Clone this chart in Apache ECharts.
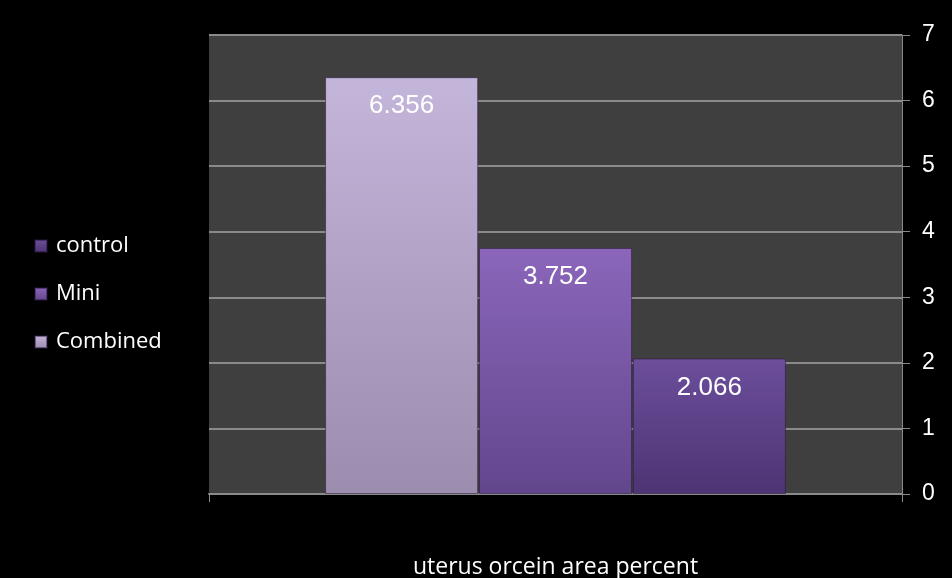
<!DOCTYPE html>
<html>
<head>
<meta charset="utf-8">
<script src="https://cdn.jsdelivr.net/npm/echarts@6/dist/echarts.min.js"></script>
<style>html,body{margin:0;padding:0;background:#000;}#c{width:952px;height:578px;}</style>
</head>
<body>
<div id="c"></div>
<script>
const categories = ['uterus orcein area percent'];
const seriesNames = ['Combined', 'Mini', 'control'];
const combinedValues = [6.356];
const miniValues = [3.752];
const controlValues = [2.066];
const legendOrder = ['control', 'Mini', 'Combined'];
const yTicks = [0, 1, 2, 3, 4, 5, 6, 7];

const grads = {
  Combined: ['#c4b5da', '#9c8cae'],
  Mini: ['#8b66bb', '#62468c'],
  control: ['#6c4e9b', '#4d3473']
};
const dataMap = { Combined: combinedValues, Mini: miniValues, control: controlValues };
const sansFont = '"Open Sans", Lato, sans-serif';

const chart = echarts.init(document.getElementById('c'));
chart.setOption({
  backgroundColor: '#000',
  animation: false,
  grid: { left: 209, right: 50, top: 35, bottom: 84, show: true, backgroundColor: '#3f3f3f', borderWidth: 0, outerBoundsMode: 'none', containLabel: false },
  legend: {
    orient: 'vertical', left: 29, top: 228,
    data: legendOrder, icon: 'rect', itemWidth: 12, itemHeight: 12, itemGap: 22,
    textStyle: { color: '#fff', fontSize: 22, fontFamily: sansFont, lineHeight: 26, padding: [0, 0, 0, 4] }
  },
  xAxis: {
    type: 'category', data: categories,
    axisLine: { show: true, lineStyle: { color: '#8a8a8a', width: 2 } },
    axisTick: { show: true, length: 8, lineStyle: { color: '#8a8a8a' } },
    axisLabel: { color: '#fff', fontSize: 23, fontFamily: sansFont, margin: 62 }
  },
  yAxis: {
    type: 'value', position: 'right', min: 0, max: yTicks[yTicks.length - 1], interval: 1,
    axisLine: { show: true, lineStyle: { color: '#8a8a8a', width: 1 } },
    axisTick: { show: true, length: 8, lineStyle: { color: '#8a8a8a' } },
    splitLine: { show: true, lineStyle: { color: '#8a8a8a', width: 2 } },
    axisLabel: { color: '#fff', fontSize: 23, fontFamily: '"Liberation Sans", Arial, sans-serif', margin: 20 }
  },
  series: seriesNames.map(function (n) {
    return {
      name: n, type: 'bar', data: dataMap[n],
      barCategoryGap: '33.5%', barGap: '0.5%',
      itemStyle: {
        color: new echarts.graphic.LinearGradient(0, 0, 0, 1, [
          { offset: 0, color: grads[n][0] }, { offset: 1, color: grads[n][1] }
        ]),
        borderColor: 'rgba(40,20,60,0.5)', borderWidth: 1
      },
      label: {
        show: true, position: 'insideTop', distance: 16, color: '#fff', fontSize: 26,
        fontFamily: '"Liberation Sans", Arial, sans-serif'
      }
    };
  })
});
</script>
</body>
</html>
